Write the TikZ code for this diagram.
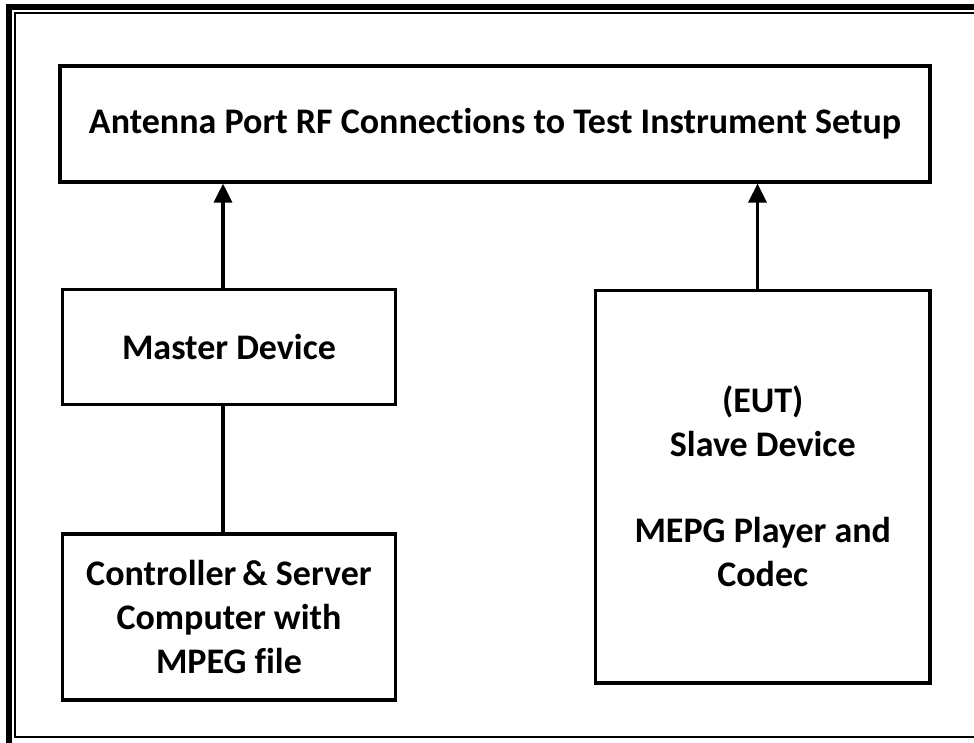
\documentclass[tikz,border=0pt]{standalone}
\usepackage{fontspec}
\setmainfont[Ligatures=NoCommon]{Carlito}
\usetikzlibrary{arrows.meta}
\begin{document}
\begin{tikzpicture}[x=1pt,y=-1pt,
  box/.style={draw=black,line width=3.2pt,fill=white,inner sep=0pt,align=center,
    font=\fontsize{36}{44}\selectfont\bfseries},
  conn/.style={line width=3.2pt},
  arr/.style={conn,-{Triangle[width=18pt,length=19pt]}}]
\useasboundingbox (0,0) rectangle (974,743);
\clip (0,0) rectangle (974,743);
% page frame
\draw[line width=6pt] (9,7) rectangle (984,746);
\draw[line width=2pt] (14.5,13) rectangle (976,737);
% nodes
\node[box,minimum width=870pt,minimum height=116pt] (top) at (495,124)
  {Antenna Port RF Connections to Test Instrument Setup};
\node[box,minimum width=333pt,minimum height=114.5pt] (master) at (229,347)
  {Master Device};
\node[box,minimum width=333pt,minimum height=166pt] (ctrl) at (229,617)
  {Controller\,\& Server\\Computer with\\MPEG file};
\node[box,minimum width=334.5pt,minimum height=392.5pt] (slave) at (762.75,486.75)
  {(EUT)\\Slave Device\\[42pt]MEPG Player and\\Codec};
% connector columns
\coordinate (lx) at (223,0);
\coordinate (rx) at (757.5,0);
\draw[arr] (master.north -| lx) -- (top.south -| lx);
\draw[arr] (slave.north -| rx) -- (top.south -| rx);
\draw[conn] (master.south -| lx) -- (ctrl.north -| lx);
\end{tikzpicture}
\end{document}
